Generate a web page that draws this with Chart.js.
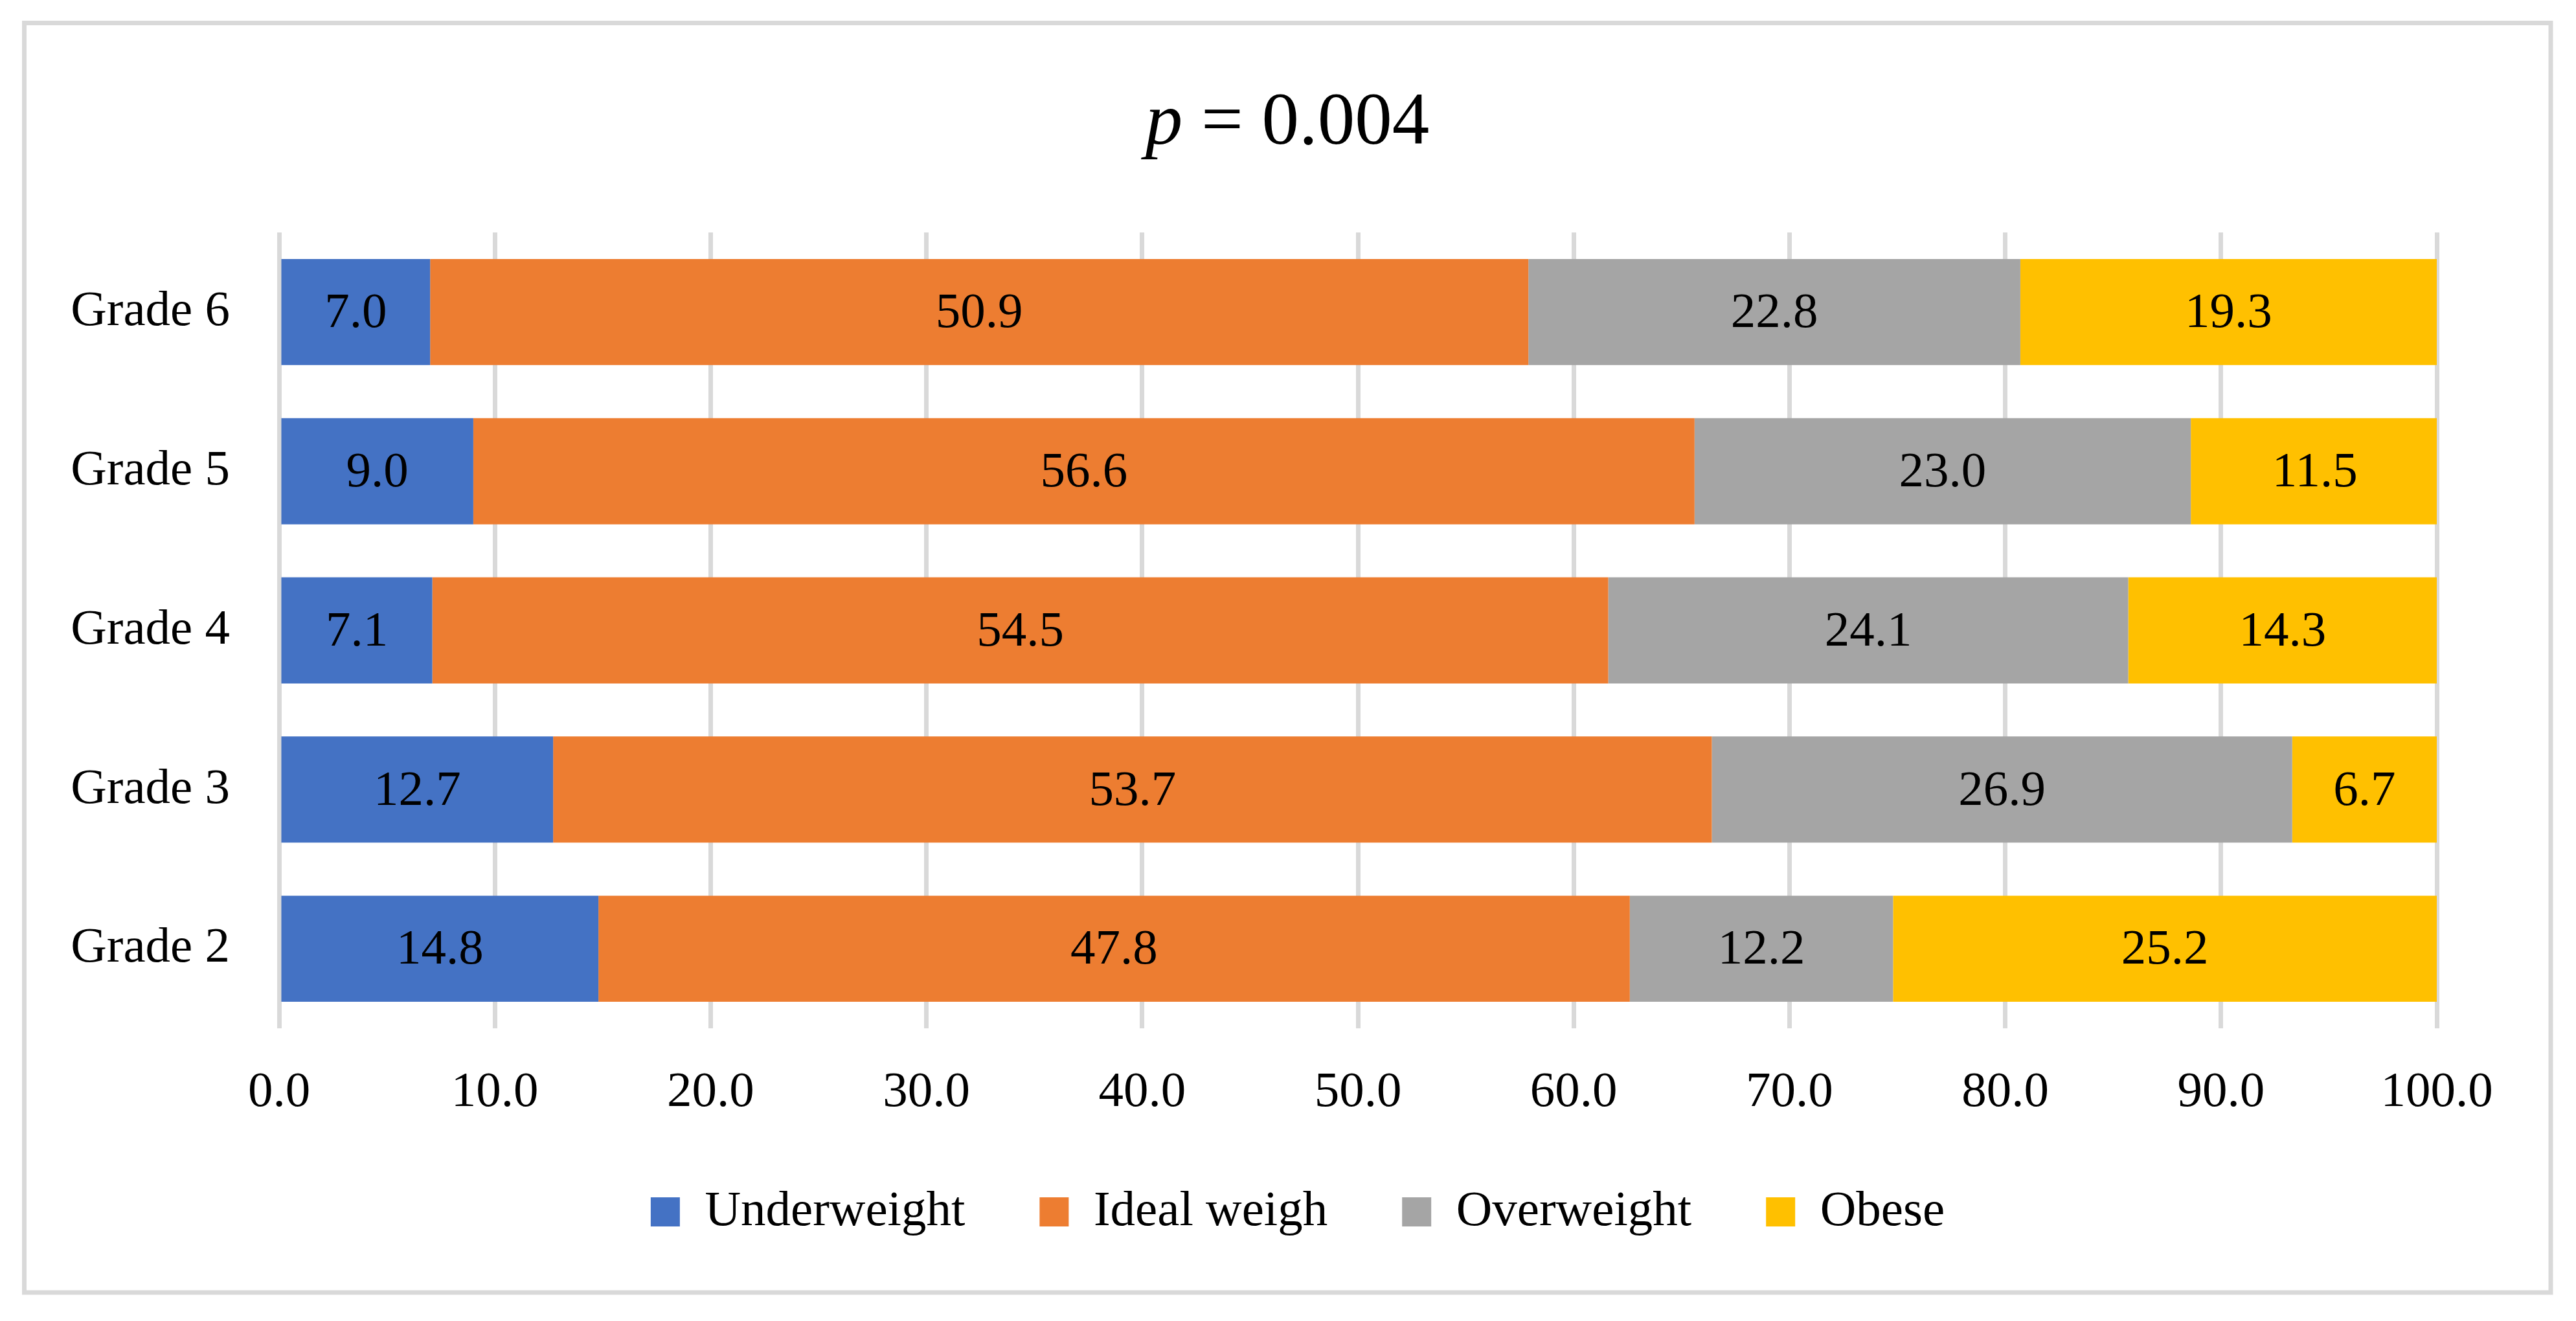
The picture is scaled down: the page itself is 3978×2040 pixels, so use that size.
<!DOCTYPE html>
<html>
<head>
<meta charset="utf-8">
<script src="https://cdn.jsdelivr.net/npm/chart.js@4.4.1/dist/chart.umd.min.js"></script>
<style>
  html, body { margin: 0; padding: 0; background: #ffffff; }
  #wrap { width: 3978px; height: 2040px; }
</style>
</head>
<body>
<div id="wrap"><canvas id="c" width="3978" height="2040"></canvas></div>
<script>
const categories = ['Grade 6', 'Grade 5', 'Grade 4', 'Grade 3', 'Grade 2'];
const seriesNames = ['Underweight', 'Ideal weigh', 'Overweight', 'Obese'];
const underweight = [7.0, 9.0, 7.1, 12.7, 14.8];
const idealWeigh = [50.9, 56.6, 54.5, 53.7, 47.8];
const overweight = [22.8, 23.0, 24.1, 26.9, 12.2];
const obese = [19.3, 11.5, 14.3, 6.7, 25.2];
const xTickMin = 0;
const xTickMax = 100;
const xTickStep = 10;
const titleItalic = 'p';
const titleRest = ' = 0.004';

const colors = ['#4472C4', '#ED7D31', '#A5A5A5', '#FFC000'];
const FONT = '"Liberation Serif", "Times New Roman", serif';
const FS = 77;

const borderPlugin = {
  id: 'outerBorder',
  beforeDraw(chart) {
    const ctx = chart.ctx;
    ctx.save();
    ctx.fillStyle = '#ffffff';
    ctx.fillRect(0, 0, chart.width, chart.height);
    ctx.strokeStyle = '#D9D9D9';
    ctx.lineWidth = 7;
    ctx.strokeRect(37.5, 35.5, 3939 - 37.5, 1996 - 35.5);
    ctx.restore();
  }
};

const titlePlugin = {
  id: 'richTitle',
  afterDraw(chart) {
    const ctx = chart.ctx;
    ctx.save();
    ctx.fillStyle = '#000000';
    ctx.textBaseline = 'alphabetic';
    const size = 115;
    ctx.font = 'italic ' + size + 'px ' + FONT;
    const w1 = ctx.measureText(titleItalic).width;
    ctx.font = size + 'px ' + FONT;
    const w2 = ctx.measureText(titleRest).width;
    const cx = 1988;
    const x0 = cx - (w1 + w2) / 2;
    const baseY = 222;
    ctx.font = 'italic ' + size + 'px ' + FONT;
    ctx.textAlign = 'left';
    ctx.fillText(titleItalic, x0, baseY);
    ctx.font = size + 'px ' + FONT;
    ctx.fillText(titleRest, x0 + w1, baseY);
    ctx.restore();
  }
};

const valueLabelPlugin = {
  id: 'valueLabels',
  afterDatasetsDraw(chart) {
    const ctx = chart.ctx;
    ctx.save();
    ctx.fillStyle = '#000000';
    ctx.font = FS + 'px ' + FONT;
    ctx.textAlign = 'center';
    ctx.textBaseline = 'middle';
    chart.data.datasets.forEach((ds, di) => {
      const meta = chart.getDatasetMeta(di);
      meta.data.forEach((bar, i) => {
        const v = ds.data[i];
        const cx = (bar.x + bar.base) / 2;
        ctx.fillText(v.toFixed(1), cx, bar.y + 3);
      });
    });
    ctx.restore();
  }
};

const seriesData = [underweight, idealWeigh, overweight, obese];

new Chart(document.getElementById('c'), {
  type: 'bar',
  data: {
    labels: categories,
    datasets: seriesNames.map((name, i) => ({
      label: name,
      data: seriesData[i],
      backgroundColor: colors[i],
      borderWidth: 0,
      barPercentage: 1.0,
      categoryPercentage: 0.667
    }))
  },
  options: {
    indexAxis: 'y',
    responsive: false,
    devicePixelRatio: 1,
    animation: false,
    layout: { padding: { top: 359, right: 0, left: 30, bottom: 120 } },
    scales: {
      x: {
        stacked: true,
        min: xTickMin,
        max: xTickMax,
        ticks: {
          stepSize: xTickStep,
          padding: 54,
          color: '#000000',
          font: { family: FONT, size: FS },
          callback: (v) => Number(v).toFixed(1),
          maxRotation: 0
        },
        grid: { color: '#D9D9D9', lineWidth: 7, drawTicks: false },
        border: { display: false },
        afterFit(scale) { scale.height = 130; scale.paddingRight = 215; }
      },
      y: {
        stacked: true,
        ticks: {
          padding: 76,
          color: '#000000',
          font: { family: FONT, size: FS }
        },
        grid: { display: false, drawTicks: false },
        border: { display: false },
        afterFit(scale) { scale.width = 401; }
      }
    },
    plugins: {
      title: { display: false },
      tooltip: { enabled: false },
      legend: {
        display: true,
        position: 'bottom',
        labels: {
          boxWidth: 45,
          boxHeight: 45,
          padding: 115,
          color: '#000000',
          font: { family: FONT, size: FS }
        }
      }
    }
  },
  plugins: [borderPlugin, titlePlugin, valueLabelPlugin]
});
</script>
</body>
</html>
